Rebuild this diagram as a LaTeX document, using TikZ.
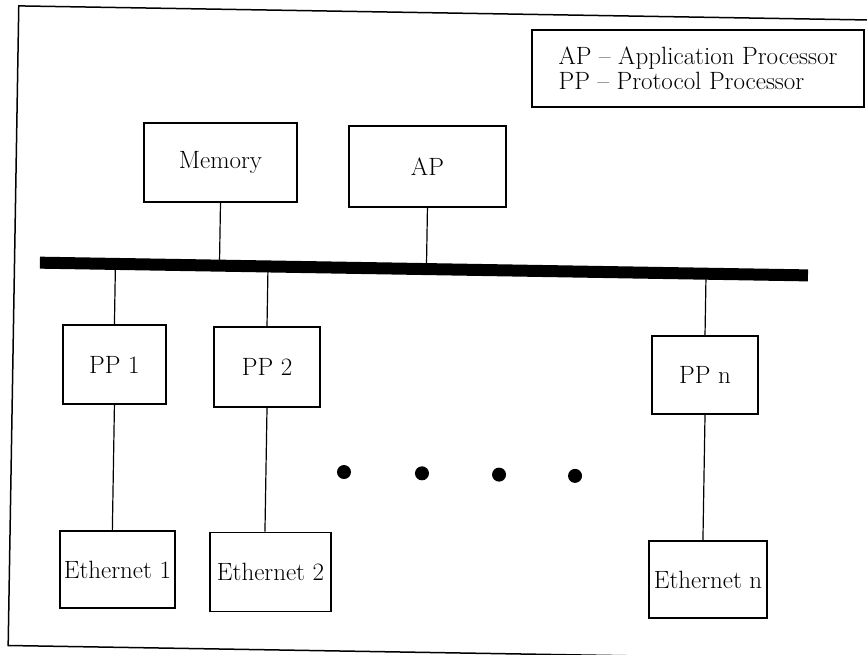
\documentclass[tikz,border=0pt]{standalone}
\begin{document}
\begin{tikzpicture}[x=1pt,y=-1pt,
  box/.style={draw, line width=1.6pt, inner sep=0pt, font=\fontsize{25}{25}\selectfont},
  link/.style={line width=1.2pt},
  dotn/.style={circle, fill=black, inner sep=0pt, minimum size=14pt}]
\useasboundingbox (0,0) rectangle (867,655);
\clip (0,0) rectangle (867,655);
\begin{scope}[rotate around={-0.95:(433,327)}]
  % outer frame
  \draw[line width=1.5pt] (13.5,12.8) rectangle (874,652.5);
  % legend
  \node[box, minimum width=332pt, minimum height=77pt, align=left] (legend) at (693.7,64.1)
    {AP -- Application Processor\\PP -- Protocol Processor};
  % top boxes
  \node[box, minimum width=153pt, minimum height=79pt] (mem) at (217.8,166.0) {Memory};
  \node[box, minimum width=157pt, minimum height=81pt] (ap) at (424.8,166.6) {AP};
  % bus
  \coordinate (busL) at (38.9,269.2);
  \coordinate (busR) at (807.1,269.2);
  \draw[line width=12pt] (busL) -- (busR);
  % protocol processors
  \node[box, minimum width=103pt, minimum height=79pt] (pp1) at (115.1,369.8) {PP 1};
  \node[box, minimum width=106pt, minimum height=80pt] (pp2) at (267.7,369.8) {PP 2};
  \node[box, minimum width=106pt, minimum height=78pt] (ppn) at (705.8,370.5) {PP n};
  % ethernets
  \node[box, minimum width=115pt, minimum height=77pt] (eth1) at (121.5,574.7) {Ethernet 1};
  \node[box, minimum width=121pt, minimum height=79pt] (eth2) at (274.6,574.7) {Ethernet 2};
  \node[box, minimum width=118pt, minimum height=77pt] (ethn) at (712.2,574.9) {Ethernet n};
  % dots
  \node[dotn] (d1) at (346.4,473.5) {};
  \node[dotn] (d2) at (424.4,473.5) {};
  \node[dotn] (d3) at (501.5,473.5) {};
  \node[dotn] (d4) at (577.5,473.5) {};
  % connectors
  \draw[link] (mem.south) -- (mem.south |- busL);
  \draw[link] (ap.south) -- (ap.south |- busL);
  \draw[link] (pp1.north) -- (pp1.north |- busL);
  \draw[link] (pp2.north) -- (pp2.north |- busL);
  \draw[link] (ppn.north) -- (ppn.north |- busL);
  \draw[link] (pp1.south) -- (pp1.south |- eth1.north);
  \draw[link] (pp2.south) -- (pp2.south |- eth2.north);
  \draw[link] (ppn.south) -- (ppn.south |- ethn.north);
\end{scope}
\end{tikzpicture}
\end{document}
